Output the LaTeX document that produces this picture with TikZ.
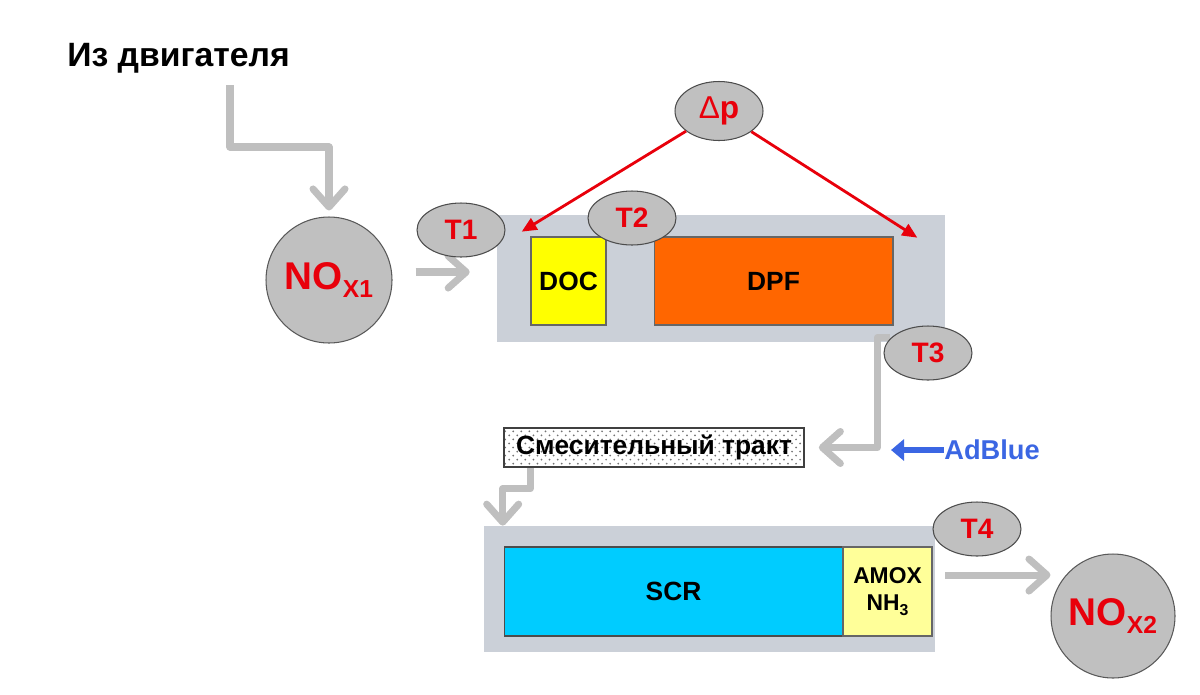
\documentclass[tikz,border=0pt]{standalone}
\usepackage{fontspec}
\setmainfont{Liberation Sans}
\usetikzlibrary{arrows.meta, shapes.geometric, patterns.meta}

\definecolor{boxgray}{HTML}{CBD0D8}
\definecolor{flowgray}{HTML}{BFBFBF}
\definecolor{sensorgray}{HTML}{C0C0C0}
\definecolor{labelred}{HTML}{E8000B}
\definecolor{adbluecol}{HTML}{3B66E3}
\definecolor{docyellow}{HTML}{FFFF00}
\definecolor{dpforange}{HTML}{FF6600}
\definecolor{scrblue}{HTML}{00CCFF}
\definecolor{amoxyellow}{HTML}{FFFF99}

\tikzdeclarepattern{
  name=sparsedots,
  type=uncolored,
  bottom left={(-1pt,-1pt)},
  top right={(5pt,5pt)},
  tile size={(4.6pt,4.6pt)},
  tile transformation={rotate=0},
  code={
    \fill (0,0) circle (0.55pt);
    \fill (2.3pt,2.3pt) circle (0.55pt);
  }
}

\tikzset{
  every node/.style={
    inner sep=0pt,
    font=\bfseries
  },
  housing/.style={fill=boxgray, draw=none},
  brick/.style={
    draw=black!60,
    line width=0.6pt,
    font=\fontsize{15}{18}\selectfont\bfseries
  },
  sensor/.style={
    ellipse,
    draw=black!70,
    line width=0.6pt,
    fill=sensorgray,
    minimum width=1.76cm,
    minimum height=1.08cm,
    text=labelred,
    font=\fontsize{16}{18}\selectfont\bfseries
  },
  gas/.style={
    circle,
    draw=black!65,
    line width=0.6pt,
    fill=sensorgray,
    text=labelred,
    font=\fontsize{22}{24}\selectfont\bfseries
  },
  flow/.style={
    draw=flowgray,
    line width=4pt,
    line join=round,
    -{Straight Barb[length=3.6mm,width=6.4mm,round]}
  },
  dparrow/.style={
    draw=labelred,
    line width=1.6pt,
    -{Triangle[length=3mm,width=2.6mm]}
  },
  blueflow/.style={
    draw=adbluecol,
    line width=3.4pt,
    -{Triangle[length=2.6mm,width=4.2mm]}
  }
}

\begin{document}
\begin{tikzpicture}[x=0.02cm, y=-0.02cm]
    \useasboundingbox (0,0) rectangle (1200,694);

    % 入口
    \node[anchor=base west, font=\fontsize{19.2}{24}\selectfont\bfseries] (engine) at (67,66) {Из двигателя};
    \coordinate (inlet) at (230,85);
    \node[gas, minimum size=2.52cm] (nox1) at (329,280) {NO\raisebox{-5pt}{\fontsize{14}{14}\selectfont X1}};

    % 上のケース
    \node[housing, minimum width=8.96cm, minimum height=2.54cm] (ubox) at (721,278.5) {};
    \node[brick, fill=docyellow, minimum width=1.5cm, minimum height=1.76cm] (doc) at (568.5,281) {DOC};
    \node[brick, fill=dpforange, minimum width=4.78cm, minimum height=1.76cm] (dpf) at (773.5,281) {DPF};

    % 混合
    \node[draw=black!75, line width=1pt, pattern={sparsedots}, pattern color=black!55,
          minimum width=6cm, minimum height=0.78cm,
          font=\fontsize{15}{18}\selectfont\bfseries] (mixer) at (654,447.5) {Смесительный тракт};
    \node[anchor=west, text=adbluecol, font=\fontsize{15.5}{18}\selectfont\bfseries] (adblue) at (944,450) {AdBlue};

    % 下のケース
    \node[housing, minimum width=9.02cm, minimum height=2.52cm] (sbox) at (709.5,589) {};
    \node[brick, fill=scrblue, draw=black!70, minimum width=6.78cm, minimum height=1.78cm] (scr) at (673.5,591.5) {SCR};
    \node[brick, fill=amoxyellow, minimum width=1.78cm, minimum height=1.78cm, align=center,
          font=\fontsize{13}{15.5}\selectfont\bfseries] (amox) at (887.5,591.5) {AMOX\\NH\raisebox{-3pt}{\fontsize{9}{9}\selectfont 3}};
    \node[gas, minimum size=2.48cm] (nox2) at (1113,616) {NO\raisebox{-5pt}{\fontsize{14}{14}\selectfont X2}};

    % 矢印
    \draw[flow, shorten >=1.2mm] (inlet) -- ++(0,62) -| (nox1.north);
    \draw[flow, shorten <=4.6mm, shorten >=5.4mm] ([yshift=1.6mm]nox1.east) -- ([yshift=1.6mm]nox1.east -| ubox.west);
    \draw[flow, shorten >=2.8mm] ([xshift=-1.1cm,yshift=1mm]ubox.south east) -- ++(-13,0) |- (mixer.east);
    \draw[blueflow] (adblue.west) -- ++(-53,0);
    \draw[flow] ([xshift=0.54cm]mixer.south west) -- ++(0,21) -| ([xshift=0.38cm]sbox.north west);
    \draw[flow, shorten <=2mm] ([yshift=2.8mm]sbox.east) -- ([yshift=2.8mm]sbox.east -| nox2.west);

    % センサー
    \node[sensor, minimum height=1.18cm, font=\fontsize{18}{20}\selectfont\bfseries] (dp) at (719,111) {{\mdseries Δ}p};
    \node[sensor] (t1) at (461,230) {T1};
    \node[sensor] (t2) at (632,218) {T2};
    \node[sensor] (t3) at (928,353) {T3};
    \node[sensor] (t4) at (977,529) {T4};

    \draw[dparrow] (dp) -- ([shift={(25,17)}]ubox.north west);
    \draw[dparrow] (dp) -- ([shift={(-28,23)}]ubox.north east);
\end{tikzpicture}
\end{document}
